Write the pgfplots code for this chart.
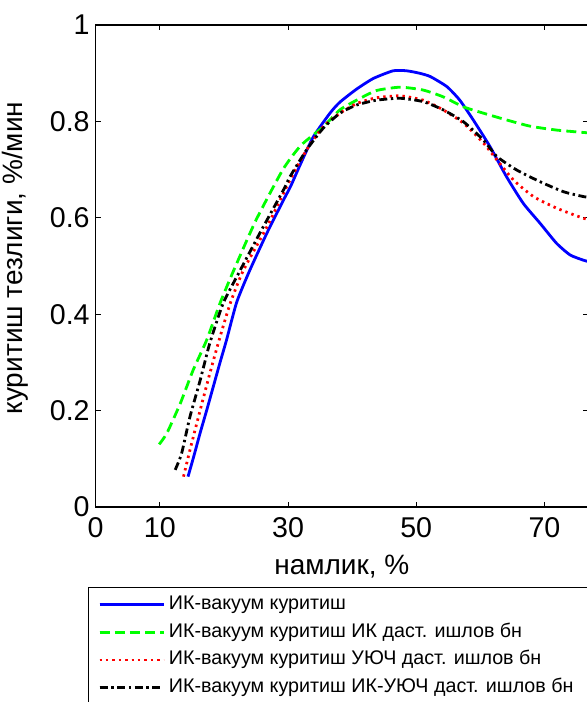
\documentclass[border=0pt]{standalone}
\usepackage{fontspec}
\setmainfont{Liberation Sans}
\usepackage{pgfplots}
\pgfplotsset{compat=1.18}
\definecolor{mblue}{RGB}{0,0,255}
\definecolor{mgreen}{RGB}{0,255,0}
\definecolor{mred}{RGB}{255,0,0}
\begin{document}
\begin{tikzpicture}
\path[use as bounding box] (-47.85pt,-97.5pt) rectangle (245.65pt,253.5pt);
\begin{axis}[
  at={(0,0)}, anchor=south west,
  scale only axis, width=246.15pt, height=241pt,
  xmin=0, xmax=76.8, ymin=0, ymax=1,
  xtick={0,10,30,50,70}, ytick={0,0.2,0.4,0.6,0.8,1},
  tick align=inside, major tick length=2.5pt,
  axis line style={line width=0.7pt},
  every tick/.style={black, line width=0.5pt},
  tick label style={font=\fontsize{14.3}{16}\selectfont},
  xticklabel style={yshift=-1.5pt},
  yticklabel style={xshift=0.5pt},
  /pgf/number format/assume math mode=true,
  xlabel={намлик, \%}, ylabel={куритиш тезлиги, \%/мин},
  label style={font=\fontsize{14}{16}\selectfont},
  xlabel style={yshift=-2pt},
  ylabel style={yshift=4pt, xshift=4pt},
  legend style={at={(0,0)}, anchor=north west, xshift=-4pt, yshift=-40pt,
    draw=black, line width=0.5pt, font=\fontsize{9.85}{11}\selectfont,
    legend cell align=left, row sep=0pt, inner xsep=5pt, inner ysep=1.5pt,
    nodes={text height=7.2pt, text depth=2.3pt, inner ysep=2.2pt}},
  legend image code/.code={\draw[#1] (0pt,0pt) -- (30pt,0pt); \path (0pt,0pt) -- (32pt,0pt);},
  every axis plot/.append style={smooth, tension=0.35},
]
\addplot[mblue, line width=1.4pt] coordinates {
(14.4,0.063) (15.3,0.105) (16.3,0.154) (17.3,0.20) (18.35,0.25) (19.4,0.30) (20.4,0.346) (22.0,0.425) (24,0.49) (26.7,0.568) (29.3,0.637) (30.4,0.665) (31.9,0.71) (33.95,0.768) (36.6,0.818) (38.1,0.840) (40.7,0.867) (43.3,0.889) (46.4,0.905) (48.5,0.905) (50.5,0.900) (52.2,0.893) (54.8,0.872) (56.8,0.844) (58.9,0.803) (61.5,0.748) (64.1,0.685) (66.7,0.630) (69.3,0.589) (71.9,0.547) (74.0,0.523) (76.1,0.512) (78,0.505)};
\addlegendentry{ИК-вакуум куритиш}
\addplot[mgreen, line width=1.4pt, dash pattern=on 5pt off 2.6pt] coordinates {
(9.9,0.130) (11.1,0.153) (13.2,0.215) (15.2,0.284) (17.3,0.346) (19.4,0.423) (21.5,0.49) (25,0.595) (29.2,0.70) (32,0.75) (35.5,0.789) (38.1,0.824) (40.7,0.844) (43.8,0.864) (47.5,0.871) (51.1,0.865) (54.2,0.851) (57.4,0.830) (60.5,0.817) (64.1,0.803) (67.8,0.790) (71.9,0.782) (76.1,0.777) (78,0.775)};
\addlegendentry{ИК-вакуум куритиш ИК даст. ишлов бн}
\addplot[mred, line width=1.4pt, dash pattern=on 1.2pt off 2pt] coordinates {
(13.7,0.063) (14.7,0.118) (16.3,0.201) (17.8,0.277) (19.4,0.353) (21.0,0.423) (23,0.49) (26.7,0.581) (30.3,0.678) (32.9,0.741) (35.5,0.789) (38.1,0.817) (40.7,0.837) (43.8,0.849) (47.5,0.853) (51.1,0.844) (54.2,0.824) (57.4,0.796) (60.5,0.755) (62.6,0.720) (65.2,0.678) (68.3,0.644) (71.9,0.620) (76.1,0.599) (78,0.594)};
\addlegendentry{ИК-вакуум куритиш УЮЧ даст. ишлов бн}
\addplot[black, line width=1.4pt, dash pattern=on 4pt off 1.8pt on 1.2pt off 1.8pt] coordinates {
(12.4,0.077) (13.4,0.111) (14.7,0.187) (16.3,0.263) (17.8,0.340) (19.9,0.423) (22.5,0.49) (25.6,0.568) (29.3,0.658) (30.3,0.685) (32.9,0.741) (35.5,0.786) (38.1,0.817) (40.7,0.834) (43.8,0.844) (47.5,0.848) (51.1,0.841) (54.2,0.824) (57.4,0.799) (60.5,0.761) (62.6,0.727) (65.7,0.699) (69.3,0.675) (73.0,0.654) (76.1,0.644) (78,0.640)};
\addlegendentry{ИК-вакуум куритиш ИК-УЮЧ даст. ишлов бн}
\end{axis}
\end{tikzpicture}
\end{document}
